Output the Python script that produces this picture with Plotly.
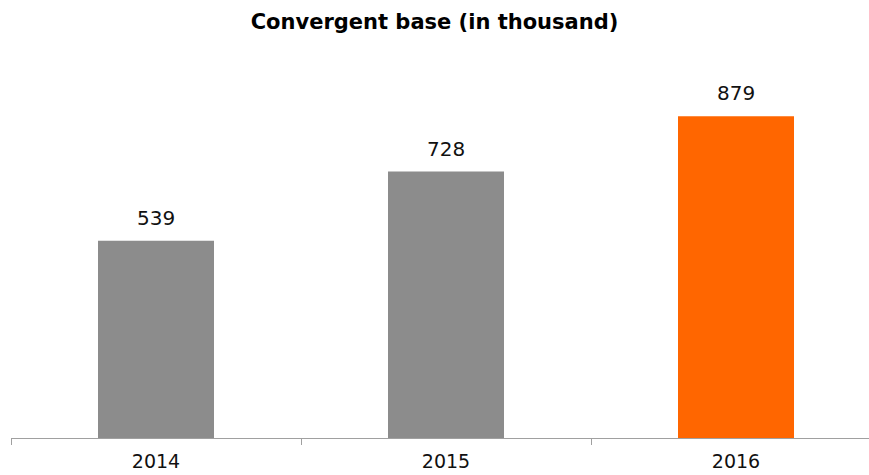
import plotly.graph_objects as go

years = ["2014", "2015", "2016"]
values = [539, 728, 879]
colors = ["#8c8c8c", "#8c8c8c", "#ff6600"]

FONT = "DejaVu Sans"

fig = go.Figure(go.Bar(
    x=years, y=values,
    marker=dict(color=colors, line=dict(width=0)),
    width=0.4,
    hoverinfo="x+y",
))

for i, v in enumerate(values):
    fig.add_annotation(x=i, y=v, xref="x", yref="y", text=str(v), showarrow=False,
                       xanchor="center", yanchor="bottom", yshift=9,
                       font=dict(family=FONT, size=20, color="#111111"))

fig.update_layout(
    width=869, height=475,
    margin=dict(l=11, r=0, t=72, b=37, autoexpand=False),
    paper_bgcolor="white", plot_bgcolor="white",
    title=dict(text="<b>Convergent base (in thousand)</b>", x=0.5, xanchor="center",
               y=1 - 22 / 475, yanchor="middle",
               font=dict(family=FONT, size=21, color="#000000")),
    showlegend=False,
    xaxis=dict(type="category", range=[-0.5, 2.4586], tickson="boundaries",
               automargin=False,
               showline=True, linecolor="#a0a0a0", linewidth=1,
               ticks="outside", ticklen=6, tickcolor="#a0a0a0",
               ticklabelstandoff=6,
               showgrid=False, zeroline=False,
               tickfont=dict(family=FONT, size=19, color="#111111")),
    yaxis=dict(range=[0, 1000], visible=False, showgrid=False, zeroline=False,
               automargin=False),
)

fig.write_html("out.html")
